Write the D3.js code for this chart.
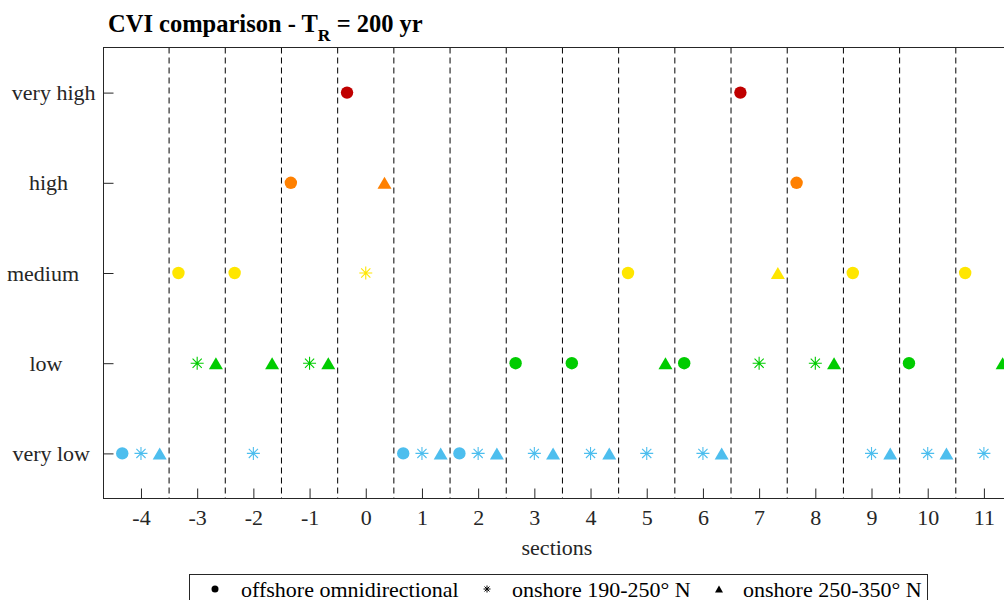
<!DOCTYPE html>
<html>
<head>
<meta charset="utf-8">
<script src="https://cdn.jsdelivr.net/npm/d3@7"></script>
<style>
  html, body { margin: 0; padding: 0; background: #fff; }
  svg { display: block; font-family: "Liberation Serif", "Times New Roman", serif; }
</style>
</head>
<body>
<svg id="chart" width="1004" height="600"></svg>
<script>
// Coastal Vulnerability Index per section, return period 200 yr
const sections = [-4, -3, -2, -1, 0, 1, 2, 3, 4, 5, 6, 7, 8, 9, 10, 11];
const levels = ["very low", "low", "medium", "high", "very high"];
const levelColors = ["#4dbeee", "#00cc00", "#ffe600", "#ff8000", "#c00000"];

// class index (1 = very low ... 5 = very high) for each section
const offshoreOmni = [1, 3, 3, 4, 5, 1, 1, 2, 2, 3, 2, 5, 4, 3, 2, 3];
const onshore190_250 = [1, 2, 1, 2, 3, 1, 1, 1, 1, 1, 1, 2, 2, 1, 1, 1];
const onshore250_350 = [1, 2, 2, 2, 4, 1, 1, 1, 1, 2, 1, 3, 2, 1, 1, 2];

const seriesNames = ["offshore omnidirectional", "onshore 190-250\u00b0 N", "onshore 250-350\u00b0 N"];

const svg = d3.select("#chart");
const axisColor = "#262626";

const x = d3.scaleLinear().domain([-4.667, 11.5]).range([103.5, 1012]);
const y = d3.scaleLinear().domain([0.5, 5.5]).range([498.5, 47.5]);

// symbol shapes
function asteriskPath(h) {
  const d = h * 0.7071;
  return `M${-h},0L${h},0M0,${-h}L0,${h}M${-d},${-d}L${d},${d}M${-d},${d}L${d},${-d}`;
}
function trianglePath(w, hgt) {
  return `M0,${-hgt / 2}L${w / 2},${hgt / 2}L${-w / 2},${hgt / 2}Z`;
}

const series = [
  { values: offshoreOmni, offset: -1 / 3, shape: "circle" },
  { values: onshore190_250, offset: 0, shape: "asterisk" },
  { values: onshore250_350, offset: 1 / 3, shape: "triangle" }
];

// clip to plot area
svg.append("defs").append("clipPath").attr("id", "plotClip")
  .append("rect")
  .attr("x", x.range()[0]).attr("y", y.range()[1])
  .attr("width", x.range()[1] - x.range()[0])
  .attr("height", y.range()[0] - y.range()[1]);

const plot = svg.append("g").attr("clip-path", "url(#plotClip)");

// section boundaries
const boundaries = sections.slice(1).map(s => s - 0.5);
plot.selectAll("line.sep").data(boundaries).join("line")
  .attr("class", "sep")
  .attr("x1", d => x(d)).attr("x2", d => x(d))
  .attr("y1", y.range()[1]).attr("y2", y.range()[0])
  .attr("stroke", "#000").attr("stroke-width", 1)
  .attr("stroke-dasharray", "6,4");

// markers
series.forEach(s => {
  const pts = sections.map((sec, i) => ({ sx: sec + s.offset, lv: s.values[i] }));
  const g = plot.append("g");
  if (s.shape === "circle") {
    g.selectAll("circle").data(pts).join("circle")
      .attr("cx", d => x(d.sx)).attr("cy", d => y(d.lv)).attr("r", 6.2)
      .attr("fill", d => levelColors[d.lv - 1]);
  } else if (s.shape === "asterisk") {
    g.selectAll("path").data(pts).join("path")
      .attr("transform", d => `translate(${x(d.sx)},${y(d.lv)})`)
      .attr("d", asteriskPath(6.5))
      .attr("fill", "none")
      .attr("stroke", d => levelColors[d.lv - 1]).attr("stroke-width", 1.1);
  } else {
    g.selectAll("path").data(pts).join("path")
      .attr("transform", d => `translate(${x(d.sx)},${y(d.lv)})`)
      .attr("d", trianglePath(14, 12))
      .attr("fill", d => levelColors[d.lv - 1]);
  }
});

// axes
const xAxis = d3.axisBottom(x).tickValues(sections)
  .tickFormat(d => String(d)).tickSizeInner(-10).tickSizeOuter(0).tickPadding(11);
const yAxis = d3.axisLeft(y).tickValues([1, 2, 3, 4, 5])
  .tickFormat(d => levels[d - 1].padEnd(9, " ")).tickSizeInner(-10).tickSizeOuter(0).tickPadding(8);

const gx = svg.append("g").attr("transform", `translate(0,${y.range()[0]})`).call(xAxis);
const gy = svg.append("g").attr("transform", `translate(${x.range()[0]},0)`).call(yAxis);

[gx, gy].forEach(g => {
  g.select(".domain").remove();
  g.selectAll(".tick line").attr("stroke", axisColor);
  g.selectAll(".tick text")
    .attr("fill", axisColor)
    .style("font-family", "Liberation Serif, serif")
    .style("font-size", "22px");
});
gy.selectAll(".tick text").attr("xml:space", "preserve").style("white-space", "pre");

// axes box
svg.append("rect")
  .attr("x", x.range()[0]).attr("y", y.range()[1])
  .attr("width", x.range()[1] - x.range()[0])
  .attr("height", y.range()[0] - y.range()[1])
  .attr("fill", "none").attr("stroke", axisColor).attr("stroke-width", 1);

// x label
svg.append("text")
  .attr("x", 557).attr("y", 555)
  .attr("text-anchor", "middle")
  .attr("fill", axisColor)
  .style("font-size", "22px")
  .text("sections");

// title
const title = svg.append("text")
  .attr("x", 108).attr("y", 32)
  .attr("fill", "#000")
  .style("font-size", "24.5px").style("font-weight", "bold");
title.append("tspan").text("CVI comparison - T");
title.append("tspan").attr("dy", 9).style("font-size", "17.5px").text("R");
title.append("tspan").attr("dy", -9).text(" = 200 yr");

// legend
const legend = svg.append("g");
legend.append("rect")
  .attr("x", 189.5).attr("y", 574.5).attr("width", 738).attr("height", 50)
  .attr("fill", "#fff").attr("stroke", axisColor).attr("stroke-width", 1);

const legendItems = [
  { name: seriesNames[0], mx: 215, tx: 241, shape: "circle" },
  { name: seriesNames[1], mx: 487, tx: 512, shape: "asterisk" },
  { name: seriesNames[2], mx: 719, tx: 743, shape: "triangle" }
];
const ly = 589;
legendItems.forEach(it => {
  if (it.shape === "circle") {
    legend.append("circle").attr("cx", it.mx).attr("cy", ly).attr("r", 3.5).attr("fill", "#000");
  } else if (it.shape === "asterisk") {
    legend.append("path").attr("transform", `translate(${it.mx},${ly})`)
      .attr("d", asteriskPath(3.5)).attr("fill", "none").attr("stroke", "#000").attr("stroke-width", 1);
  } else {
    legend.append("path").attr("transform", `translate(${it.mx},${ly})`)
      .attr("d", trianglePath(8, 7)).attr("fill", "#000");
  }
  legend.append("text").attr("x", it.tx).attr("y", 597)
    .attr("fill", "#000").style("font-size", "22px").text(it.name);
});
</script>
</body>
</html>
